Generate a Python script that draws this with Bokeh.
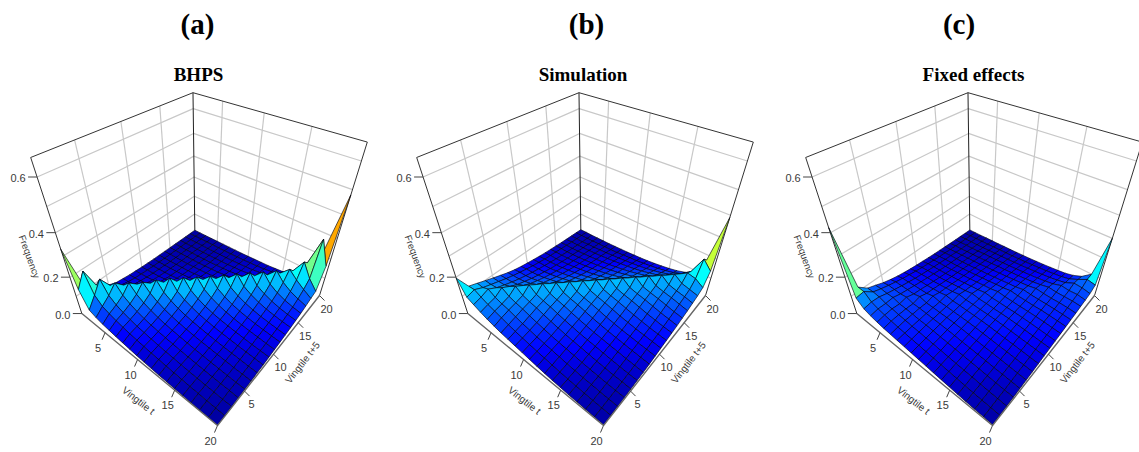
import numpy as np
from bokeh.plotting import figure
from bokeh.layouts import row
from bokeh.models import Range1d, LinearColorMapper, ColumnDataSource
from bokeh.core.properties import value
from bokeh.embed import file_html
from bokeh.resources import INLINE

TITLES = ["BHPS", "Simulation", "Fixed effects"]
LETTERS = ["(a)", "(b)", "(c)"]
X_TICKS = [5, 10, 15, 20]
Y_TICKS = [5, 10, 15, 20]
Z_TICKS = [0.0, 0.2, 0.4, 0.6]
Z_GRID = [0.1, 0.2, 0.3, 0.4, 0.5, 0.6]

# frequency x 1000, row = Vingtile t, column = Vingtile t+5
BHPS = [
[330,150,90,60,45,30,25,20,17,14,12,10,9,8,7,6,5,4,3,3],
[160,225,125,80,55,40,30,24,20,17,14,12,10,9,8,7,6,5,4,3],
[75,125,180,118,72,50,38,30,24,20,17,14,12,10,9,8,7,6,5,4],
[60,90,118,155,115,72,50,38,30,24,20,17,14,12,10,9,8,7,6,5],
[50,75,92,114,150,115,72,50,38,30,24,20,17,14,12,10,9,8,7,6],
[44,64,76,92,114,148,115,72,50,38,30,24,20,17,14,12,10,9,8,7],
[38,55,64,76,92,114,155,115,72,50,38,30,24,20,17,14,12,10,9,8],
[33,48,55,64,76,92,114,160,115,72,50,38,30,24,20,17,14,12,10,9],
[28,42,48,55,64,76,92,114,157,115,72,50,38,30,24,20,17,14,12,10],
[24,37,42,48,55,64,76,92,114,156,115,72,50,38,30,24,20,17,14,12],
[20,32,37,42,48,55,64,76,92,114,155,115,72,50,38,30,24,20,17,14],
[17,28,32,37,42,48,55,64,76,92,114,156,115,72,50,38,30,24,20,16],
[14,24,28,32,37,42,48,55,64,76,92,114,157,115,72,50,38,30,24,18],
[12,20,24,28,32,37,42,48,55,64,76,92,114,158,115,72,50,38,30,22],
[10,17,20,24,28,32,37,42,48,55,64,76,92,114,158,115,74,52,38,26],
[8,14,17,20,24,28,32,37,42,48,55,64,76,92,116,160,120,78,52,35],
[6,12,14,17,20,24,28,32,37,42,48,55,64,76,92,120,162,128,80,55],
[5,9,12,14,17,20,24,28,32,37,42,48,55,64,76,95,128,195,165,100],
[4,7,9,12,14,17,20,24,28,32,37,42,48,55,64,78,100,130,300,210],
[3,5,7,9,12,14,17,20,24,28,32,37,42,48,55,64,75,85,190,480],
]
SIMULATION = [
[195,125,112,98,85,72,60,50,43,37,32,27,23,20,17,14,12,10,8,6],
[120,130,112,100,88,76,66,57,49,42,36,31,27,23,20,17,14,11,9,7],
[105,115,128,106,92,80,69,60,52,45,39,33,28,24,20,17,14,11,9,7],
[90,100,108,130,108,90,78,67,58,50,43,37,32,27,23,20,17,14,11,8],
[78,90,98,108,132,108,90,78,67,58,50,43,37,32,27,23,20,16,13,9],
[68,80,90,98,108,134,108,90,78,67,58,50,43,37,32,27,23,19,14,10],
[60,70,80,90,98,108,136,108,90,78,67,58,50,43,37,32,27,22,16,12],
[54,62,70,80,90,98,108,136,108,90,78,67,58,50,43,37,32,26,19,14],
[48,54,62,70,80,90,98,108,136,108,90,78,67,58,50,43,37,30,23,16],
[42,48,54,62,70,80,90,98,108,136,108,90,78,67,58,50,43,35,27,19],
[36,42,48,54,62,70,80,90,98,108,136,108,90,78,67,58,49,40,31,22],
[30,36,42,48,54,62,70,80,90,98,108,136,108,90,78,67,56,46,36,26],
[25,30,36,42,48,54,62,70,80,90,98,108,136,108,90,78,65,53,42,31],
[20,25,30,36,42,48,54,62,70,80,90,98,108,136,108,90,76,62,49,37],
[17,20,25,30,36,42,48,54,62,70,80,90,98,108,136,108,88,73,58,44],
[13,17,20,25,30,36,42,48,54,62,70,80,90,98,108,136,108,86,69,53],
[11,13,17,20,25,30,36,42,48,54,62,70,80,90,98,108,136,110,85,66],
[9,11,13,17,20,25,30,36,42,48,54,62,70,80,90,98,110,138,120,85],
[7,9,11,13,17,20,25,30,36,42,48,54,62,70,80,90,100,130,205,175],
[5,7,9,11,13,17,20,25,30,36,42,48,54,62,70,80,90,105,165,390],
]
FIXED_EFFECTS = [
[420,120,85,72,58,48,40,34,29,25,22,19,16,14,12,10,8,7,5,4],
[115,120,88,76,66,57,49,43,37,32,28,24,21,18,15,13,11,9,7,5],
[82,88,85,74,66,58,51,45,40,35,31,27,24,21,18,15,13,11,8,6],
[70,76,74,76,66,60,54,48,43,38,33,29,26,23,20,17,14,12,10,8],
[62,68,70,66,72,60,56,50,45,40,36,32,28,25,22,19,16,13,11,9],
[56,62,64,64,62,70,58,54,49,44,40,36,32,28,25,22,19,16,13,10],
[52,57,60,61,62,60,68,58,54,49,44,40,36,32,28,25,22,18,15,12],
[48,52,55,57,59,60,60,66,58,54,49,44,40,36,32,28,24,20,17,13],
[44,48,52,55,57,58,60,60,66,58,54,49,44,40,36,32,27,23,19,15],
[40,44,48,52,55,57,58,60,61,66,58,54,49,44,40,35,30,26,21,17],
[36,40,44,48,52,55,57,58,60,61,66,58,54,49,44,39,34,29,24,19],
[32,36,40,44,48,52,55,57,58,60,61,66,58,54,49,43,38,33,27,22],
[28,32,36,40,44,48,52,55,57,58,60,62,66,58,54,48,42,37,31,25],
[24,28,32,36,40,44,48,52,55,57,58,60,62,67,59,53,47,41,35,29],
[20,24,28,32,36,40,44,48,52,55,57,58,60,63,68,60,53,46,40,33],
[16,20,24,28,32,36,40,44,48,52,55,57,58,61,64,70,60,53,46,38],
[13,16,20,24,28,32,36,40,44,48,52,55,58,60,62,66,74,62,55,48],
[10,13,16,20,24,28,32,36,40,44,48,52,55,58,62,66,70,82,75,65],
[8,10,13,16,20,24,28,32,36,40,44,48,52,55,60,66,72,80,98,100],
[6,8,10,13,16,20,24,28,32,36,40,44,48,52,56,62,66,72,90,300],
]
SURFACES = [BHPS, SIMULATION, FIXED_EFFECTS]

# layout
ZTOP = 0.66
PANEL_DX = [0, 386, 775]
PANEL_X = [(0, 385), (385, 770), (770, 1139)]
LETTER_X = [197, 586, 958.5]
TITLE_X = [198, 582.5, 973]
Y_TOP, Y_BOT = 0, 452
CORNERS = [((1, 1, 0), (81.7, 313.3)), ((1, 20, 0), (194, 230)), ((20, 1, 0), (216.7, 425)),
           ((20, 20, 0), (319.3, 295)), ((1, 1, ZTOP), (30, 156.7)), ((1, 20, ZTOP), (192.7, 92.3)),
           ((20, 20, ZTOP), (366.7, 141.7))]

A, b = [], []
for (x, y, z), (sx, sy) in CORNERS:
    A.append([x, y, z, 1, 0, 0, 0, 0, -sx*x, -sx*y, -sx*z]); b.append(sx)
    A.append([0, 0, 0, 0, x, y, z, 1, -sy*x, -sy*y, -sy*z]); b.append(sy)
sol = np.linalg.lstsq(np.array(A, float), np.array(b, float), rcond=None)[0]
P = np.append(sol, 1).reshape(3, 4)

def proj(x, y, z):
    q = P @ np.array([x, y, z, 1.0])
    return q[0]/q[2], q[1]/q[2]

def jet(n=256):
    out = []
    for t in np.linspace(0, 1, n):
        r = np.clip(min(4*t-1.5, -4*t+4.5), 0, 1)
        g = np.clip(min(4*t-0.5, -4*t+3.5), 0, 1)
        bl = np.clip(min(4*t+0.5, -4*t+2.5), 0, 1)
        out.append("#%02x%02x%02x" % (int(r*255), int(g*255), int(bl*255)))
    return out

mapper = LinearColorMapper(palette=jet(), low=-0.012, high=0.42)
figs = []
for k, M in enumerate(SURFACES):
    Z = np.array(M, float)/1000
    dx = PANEL_DX[k]
    x0, x1 = PANEL_X[k]
    p = figure(width=x1-x0, height=Y_BOT-Y_TOP, x_range=Range1d(x0, x1), y_range=Range1d(Y_BOT, Y_TOP),
               output_backend="svg", toolbar_location=None, min_border=0,
               background_fill_color="white", border_fill_color="white")
    p.axis.visible = False
    p.grid.visible = False
    p.outline_line_color = None

    def seg(pts, color, w):
        xs = [a[0]+dx for a in pts]; ys = [a[1] for a in pts]
        p.line(xs, ys, line_color=color, line_width=w)

    # wall grids
    for z in Z_GRID:
        seg([proj(1, 1, z), proj(1, 20, z), proj(20, 20, z)], "#c8c8c8", 1.2)
    for t in [5, 10, 15]:
        seg([proj(1, t, 0), proj(1, t, ZTOP)], "#c8c8c8", 1.2)
        seg([proj(t, 20, 0), proj(t, 20, ZTOP)], "#c8c8c8", 1.2)
    # box behind surface
    seg([proj(1, 1, 0), proj(1, 1, ZTOP), proj(1, 20, ZTOP), proj(20, 20, ZTOP), proj(20, 20, 0)], "#333333", 1)
    seg([proj(1, 20, ZTOP), proj(1, 20, 0)], "#222222", 1)

    # surface, back to front
    xs, ys, vals = [], [], []
    for i in range(19):
        for j in range(18, -1, -1):
            c = [(i, j), (i, j+1), (i+1, j+1), (i+1, j)]
            pts = [proj(a+1, e+1, Z[a, e]) for a, e in c]
            xs.append([q[0]+dx for q in pts]); ys.append([q[1] for q in pts])
            vals.append(float(np.mean([Z[a, e] for a, e in c])))
    src = ColumnDataSource(dict(xs=xs, ys=ys, v=vals))
    p.patches("xs", "ys", source=src, fill_color={"field": "v", "transform": mapper},
              line_color="#000010", line_width=0.8, line_alpha=0.8)

    # floor edges
    seg([proj(1, 1, 0), proj(20, 1, 0), proj(20, 20, 0)], "#666666", 1.4)

    # ticks and labels
    def lab(x, y, t, size="10px", angle=0.0, color="#3a3a3a", font="Liberation Sans", style="normal"):
        p.text([x], [y], text=[t], text_font=value(font), text_font_size=value(size), text_color=color,
               text_align="center", text_baseline="middle", angle=angle, text_font_style=style)

    for t in X_TICKS:
        a = proj(t, 1, 0)
        seg([a, (a[0]-3, a[1]+7)], "#444444", 1)
        lab(a[0]-7+dx, a[1]+15, str(t), "11px")
    for t in Y_TICKS:
        a = proj(20, t, 0)
        seg([a, (a[0]+5, a[1]+5)], "#444444", 1)
        lab(a[0]+7+dx, a[1]+13, str(t), "11px")
    for t in Z_TICKS:
        a = proj(1, 1, t)
        seg([a, (a[0]-9, a[1])], "#444444", 1)
        lab(a[0]-19+dx, a[1]+1, "%.1f" % t, "11px")

    lab(29+dx, 256, "Frequency", "9.6px", angle=np.radians(-70))
    lab(138+dx, 400, "Vingtile t", "10px", angle=np.radians(-38))
    lab(302+dx, 362, "Vingtile t+5", "10px", angle=np.radians(52))

    lab(LETTER_X[k], 23, LETTERS[k], "29px", color="#000000", font="Liberation Serif", style="bold")
    lab(TITLE_X[k], 74, TITLES[k], "19px", color="#000000", font="Liberation Serif", style="bold")
    figs.append(p)

layout = row(*figs, spacing=0)
open("out.html", "w").write(file_html(layout, INLINE))
